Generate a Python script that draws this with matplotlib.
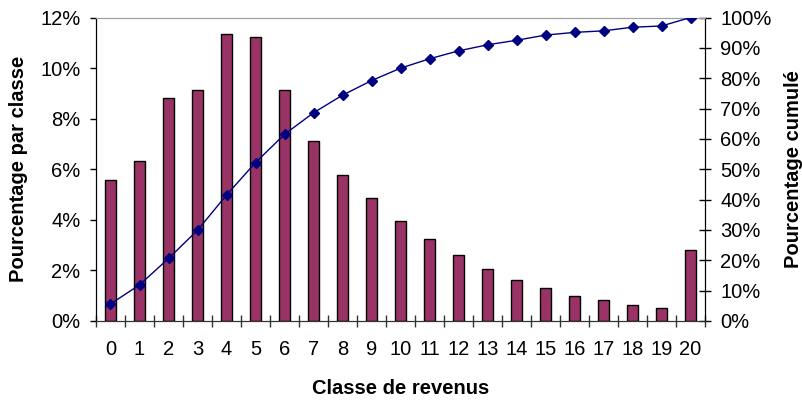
import matplotlib
matplotlib.use("Agg")
import matplotlib.pyplot as plt
from matplotlib.ticker import FuncFormatter, MultipleLocator
import numpy as np

plt.rcParams["font.family"] = ["Liberation Sans", "DejaVu Sans"]

classes = list(range(21))
pct_class = [5.57, 6.31, 8.83, 9.13, 11.34, 11.23, 9.13, 7.13, 5.77, 4.86, 3.96,
             3.23, 2.60, 2.04, 1.61, 1.30, 0.98, 0.82, 0.62, 0.50, 2.79]
pct_cum = [5.6, 11.9, 20.6, 29.9, 41.5, 52.2, 61.5, 68.6, 74.4, 79.2, 83.3,
           86.4, 89.0, 91.0, 92.5, 94.2, 95.1, 95.6, 96.8, 97.2, 100.0]

fig = plt.figure(figsize=(8.03, 4.01), dpi=100)
ax = fig.add_axes([96 / 803, 1 - 321 / 401, 609 / 803, 303.5 / 401])
ax2 = ax.twinx()

x = np.arange(len(classes))
ax.bar(x, pct_class, width=0.38, color="#993366", edgecolor="black", linewidth=1.0, zorder=2)
ax2.plot(x, pct_cum, color="#000080", lw=1.0, marker="D", markersize=5.5, zorder=3)

ax.set_xlim(-0.5, len(classes) - 0.5)
ax.set_ylim(0, 12)
ax2.set_ylim(0, 100)

ax.set_xticks(x)
ax.set_xticklabels([str(c) for c in classes])
ax.set_xticks(np.arange(-0.5, len(classes), 1.0), minor=True)
ax.tick_params(axis="x", which="major", length=0, pad=14, labelsize=14.5)
ax.tick_params(axis="x", which="minor", direction="inout", length=8, width=1.0, color="#333333")

ax.yaxis.set_major_locator(MultipleLocator(2))
ax.yaxis.set_major_formatter(FuncFormatter(lambda v, p: f"{v:.0f}%"))
ax.tick_params(axis="y", direction="out", length=4.3, width=1.0, labelsize=14.5, pad=7)

ax2.yaxis.set_major_locator(MultipleLocator(10))
ax2.yaxis.set_major_formatter(FuncFormatter(lambda v, p: f"{v:.0f}%"))
ax2.tick_params(axis="y", direction="inout", length=8, width=1.0, labelsize=14.5, pad=7)

for a in (ax, ax2):
    a.spines["top"].set_color("#a0a0a0")
    a.spines["bottom"].set_color("#333333")
    a.spines["left"].set_color("black")
    a.spines["right"].set_color("black")

ax.set_xlabel("Classe de revenus", fontsize=14.5, fontweight="bold", labelpad=14)
ax.set_ylabel("Pourcentage par classe", fontsize=14.5, fontweight="bold", labelpad=9)
ax2.set_ylabel("Pourcentage cumulé", fontsize=14.5, fontweight="bold", labelpad=9)

fig.savefig("out.png", dpi=100)
